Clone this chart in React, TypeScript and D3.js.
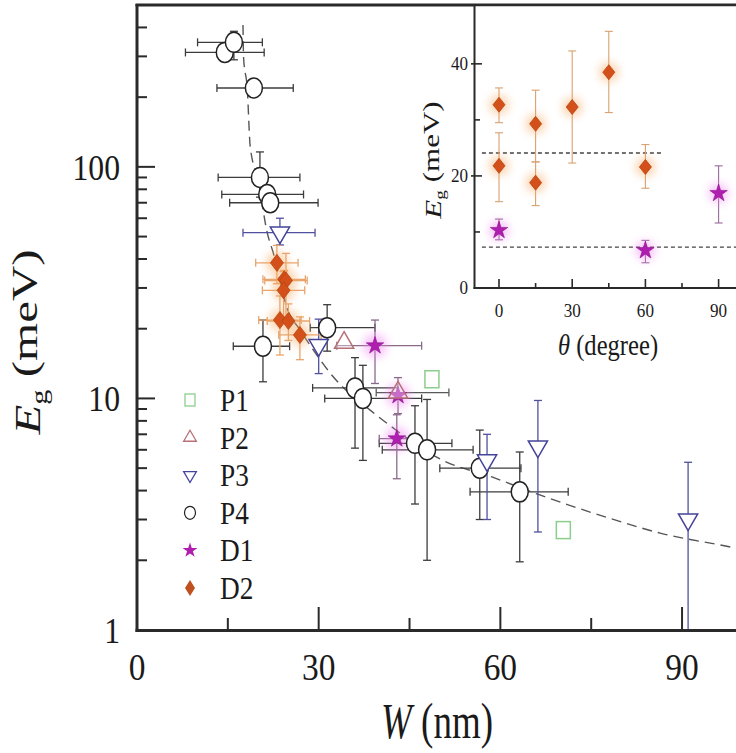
import React from 'react';
import * as d3 from 'd3';

type Pt = { w: number; e: number; w0?: number; w1?: number; e0?: number; e1?: number; theta?: number };

// Axis ticks
const xMajorTicks = [0, 30, 60, 90];
const xMinorTicks = [15, 45, 75];
const yLabelTicks = [1, 10, 100];
const insetXMajor = [0, 30, 60, 90];
const insetXMinor = [15, 45, 75];
const insetYMajor = [0, 20, 40];
const insetYMinor = [10, 30];

// Gap energy vs. ribbon width, per sample family
const seriesP1: Pt[] = [
  { w: 48.7, e: 12.1 },
  { w: 70.4, e: 2.7 },
];
const seriesP2: Pt[] = [
  { w: 34.2, e: 17.4 },
  { w: 43.1, e: 10.6, w0: 39.5, w1: 51.5 },
];
const seriesP3: Pt[] = [
  { w: 23.6, e: 52, w0: 17.5, w1: 29.4, e0: 46, e1: 60 },
  { w: 30.0, e: 17, e0: 12.8, e1: 22 },
  { w: 57.8, e: 5.4, e0: 3.0, e1: 7.0 },
  { w: 66.2, e: 6.2, e0: 2.65, e1: 9.8 },
  { w: 91.0, e: 3.0, e0: 1.0, e1: 5.3 },
];
const seriesP4: Pt[] = [
  { w: 14.5, e: 312, w0: 8, w1: 21 },
  { w: 16.0, e: 345, w0: 10, w1: 20.7, e0: 290, e1: 385 },
  { w: 19.3, e: 219, w0: 13.2, w1: 25.8 },
  { w: 20.3, e: 90, w0: 13.4, w1: 26.9, e0: 74, e1: 116 },
  { w: 21.5, e: 76, w0: 14, w1: 27.5 },
  { w: 22.0, e: 70, w0: 15.3, w1: 29.9 },
  { w: 20.8, e: 16.8, w0: 15.9, w1: 25.2, e0: 11.8, e1: 21.8 },
  { w: 31.4, e: 20.2, w0: 28.6, w1: 39.3, e0: 16, e1: 25.4 },
  { w: 36.0, e: 11.1, w0: 29, w1: 43, e0: 6.1, e1: 15 },
  { w: 37.3, e: 10.0, w0: 31, w1: 47, e0: 5.4, e1: 13.9 },
  { w: 45.9, e: 6.4, w0: 40, w1: 52, e0: 3.5, e1: 9.3 },
  { w: 47.9, e: 6.0, w0: 40.5, w1: 55.5, e0: 2.0, e1: 9.9 },
  { w: 56.6, e: 5.0, w0: 50, w1: 63.4, e0: 3.0, e1: 7.3 },
  { w: 63.2, e: 3.95, w0: 55, w1: 71.2, e0: 1.97, e1: 5.87 },
];
const seriesD1: Pt[] = [
  { w: 39.3, e: 16.9, w0: 33, w1: 47, e0: 11.6, e1: 21.8, theta: 90 },
  { w: 43.1, e: 10.3, e0: 8.6, e1: 12.3, theta: 0 },
  { w: 42.9, e: 6.7, w0: 40, w1: 46, e0: 4.5, e1: 8.5, theta: 60 },
];
const seriesD2: Pt[] = [
  { w: 23.1, e: 38.5, w0: 19.6, w1: 26.6, e0: 31.3, e1: 45.8, theta: 45 },
  { w: 24.3, e: 32.7, w0: 20.8, w1: 27.8, e0: 29.5, e1: 35.7, theta: 0 },
  { w: 24.6, e: 32.3, w0: 21.1, w1: 28.1, e0: 22.3, e1: 42.3, theta: 30 },
  { w: 24.2, e: 29.3, w0: 20.7, w1: 27.7, e0: 22.5, e1: 35.3, theta: 15 },
  { w: 23.6, e: 21.8, w0: 20.1, w1: 27.1, e0: 15.4, e1: 27.7, theta: 0 },
  { w: 25.0, e: 21.6, w0: 21.5, w1: 28.5, e0: 17.8, e1: 25.6, theta: 60 },
  { w: 26.9, e: 18.8, w0: 23.4, w1: 30.4, e0: 14.7, e1: 22.5, theta: 15 },
];

// Fitted curve through the data
const fitW = [17.5, 17.6, 18.2, 18.7, 20.0, 21.5, 22.5, 24.9, 26.9, 29.1, 32.4, 38.5, 41.3, 50.5, 58.6, 66.5, 77.3, 86.4, 98.7, 100];
const fitE = [410, 296, 219, 122, 88, 52, 42.5, 24.1, 19.8, 16.2, 12.4, 8.9, 7.8, 5.4, 4.58, 3.83, 3.08, 2.62, 2.26, 2.22];

// Mean gap levels in the angle inset
const insetLevels = [
  { e: 24.1, from: -7, to: 66.5 },
  { e: 7.3, from: -7, to: 100 },
];

const legendItems = ['P1', 'P2', 'P3', 'P4', 'D1', 'D2'];

const FONT = "'Liberation Serif', 'Times New Roman', serif";
const INK = '#2a2a2a';
const COL = {
  P1: '#8ccf8c',
  P2: '#b87078',
  P3: '#44449a',
  P4: '#222222',
  D1: '#b01eb0',
  D2: '#d4501a',
};

const x = d3.scaleLinear().domain([0, 100]).range([137, 742.6]);
const y = d3.scaleLog().domain([1, 500]).range([630, 5]);
const ix = d3.scaleLinear().domain([-10, 100]).range([474.6, 743]);
const iy = d3.scaleLinear().domain([0, 50.5]).range([288, 5]);

const starPath = d3.symbol().type(d3.symbolStar).size(95)()!;
const starSmall = d3.symbol().type(d3.symbolStar).size(70)()!;
const triPath = d3.symbol().type(d3.symbolTriangle).size(160)()!;
const triSmall = d3.symbol().type(d3.symbolTriangle).size(70)()!;
const diamond = (a: number, b: number) => `M0,${-b}L${a},0L0,${b}L${-a},0Z`;

function ErrorBars({ pts, sx, sy, color, cap = 4, width = 1.3 }: any) {
  return (
    <g stroke={color} strokeWidth={width} fill="none">
      {pts.map((p: any, i: number) => {
        const cx = sx(p.px), cy = sy(p.py);
        return (
          <g key={i}>
            {p.x0 != null && (
              <>
                <line x1={sx(p.x0)} x2={sx(p.x1)} y1={cy} y2={cy} />
                <line x1={sx(p.x0)} x2={sx(p.x0)} y1={cy - cap} y2={cy + cap} />
                <line x1={sx(p.x1)} x2={sx(p.x1)} y1={cy - cap} y2={cy + cap} />
              </>
            )}
            {p.y0 != null && (
              <>
                <line x1={cx} x2={cx} y1={sy(p.y0)} y2={sy(p.y1)} />
                {p.y0 > 1.01 && <line x1={cx - cap} x2={cx + cap} y1={sy(p.y0)} y2={sy(p.y0)} />}
                <line x1={cx - cap} x2={cx + cap} y1={sy(p.y1)} y2={sy(p.y1)} />
              </>
            )}
          </g>
        );
      })}
    </g>
  );
}

const mainPts = (s: Pt[]) => s.map((p) => ({ px: p.w, py: p.e, x0: p.w0, x1: p.w1, y0: p.e0, y1: p.e1 }));
const insetPts = (s: Pt[]) => s.map((p) => ({ px: p.theta, py: p.e, y0: p.e0, y1: p.e1 }));

function Txt({ x: tx, y: ty, size, anchor = 'middle', sx = 0.86, rotate = 0, children }: any) {
  return (
    <text
      transform={`translate(${tx},${ty}) rotate(${rotate}) scale(${sx},1)`}
      fontSize={size}
      fontFamily={FONT}
      textAnchor={anchor}
      fill="#1a1a1a"
    >
      {children}
    </text>
  );
}

export default function App() {
  const yMinor = y.ticks().filter((t) => ![1, 10, 100].includes(t));
  const fitLine = d3
    .line<number>()
    .x((_, i) => x(fitW[i]))
    .y((d) => y(d))
    .curve(d3.curveMonotoneX)(fitE)!;

  return (
    <svg width={736} height={753} style={{ position: 'absolute', left: 0, top: 0, background: '#fff' }}>
      <defs>
        <filter id="halo" x="-100%" y="-100%" width="300%" height="300%">
          <feGaussianBlur stdDeviation="4" />
        </filter>
        <clipPath id="plotClip">
          <rect x={137} y={5} width={600} height={626} />
        </clipPath>
      </defs>
      <rect width={736} height={753} fill="#fff" />

      {/* main plot */}
      <g clipPath="url(#plotClip)">
        <path d={fitLine} fill="none" stroke="#555" strokeWidth={1.4} strokeDasharray="10,6" />

        <ErrorBars pts={mainPts(seriesP4)} sx={x} sy={y} color="#3c3c3c" />
        <ErrorBars pts={mainPts(seriesP3)} sx={x} sy={y} color="#50509e" />
        <ErrorBars pts={mainPts(seriesP2)} sx={x} sy={y} color="#5a5a5a" />
        <ErrorBars pts={mainPts(seriesD1)} sx={x} sy={y} color="#8a6a8a" />
        <ErrorBars pts={mainPts(seriesD2)} sx={x} sy={y} color="#e8a46c" />

        {/* halos around the filled markers */}
        <g filter="url(#halo)" opacity={0.45}>
          {seriesD2.map((p, i) => (
            <circle key={'h2' + i} cx={x(p.w)} cy={y(p.e)} r={11} fill="#f6a45a" />
          ))}
          {seriesD1.map((p, i) => (
            <circle key={'h1' + i} cx={x(p.w)} cy={y(p.e)} r={12} fill="#f080f0" />
          ))}
        </g>

        {seriesP4.map((p, i) => (
          <ellipse key={'p4' + i} cx={x(p.w)} cy={y(p.e)} rx={8.5} ry={10} fill="#fff" stroke={COL.P4} strokeWidth={1.5} />
        ))}
        {seriesP3.map((p, i) => (
          <path key={'p3' + i} d={triPath} transform={`translate(${x(p.w)},${y(p.e)}) rotate(180)`} fill="#fff" stroke={COL.P3} strokeWidth={1.5} />
        ))}
        {seriesP1.map((p, i) => (
          <rect key={'p1' + i} x={x(p.w) - 7} y={y(p.e) - 8.5} width={14} height={17} fill="#fff" stroke={COL.P1} strokeWidth={1.5} />
        ))}
        {seriesD2.map((p, i) => (
          <path key={'d2' + i} d={diamond(6.5, 8.5)} transform={`translate(${x(p.w)},${y(p.e)})`} fill={COL.D2} stroke="#b8440f" strokeWidth={0.8} />
        ))}
        {seriesD1.map((p, i) => (
          <path key={'d1' + i} d={starPath} transform={`translate(${x(p.w)},${y(p.e)})`} fill={COL.D1} stroke="#8a108a" strokeWidth={0.6} />
        ))}
        {seriesP2.map((p, i) => (
          <path key={'p2' + i} d={triPath} transform={`translate(${x(p.w)},${y(p.e)})`} fill="#fff" fillOpacity={0.35} stroke={COL.P2} strokeWidth={1.5} />
        ))}
      </g>

      {/* main axes */}
      <g stroke={INK} fill="none">
        <line x1={137} x2={137} y1={4} y2={632} strokeWidth={3} />
        <line x1={135.5} x2={736} y1={630.5} y2={630.5} strokeWidth={3} />
        <line x1={135.5} x2={736} y1={5} y2={5} strokeWidth={3} />
        {xMajorTicks.filter((t) => t > 0).map((t) => (
          <line key={'xM' + t} x1={x(t)} x2={x(t)} y1={630} y2={607} strokeWidth={2} />
        ))}
        {xMinorTicks.map((t) => (
          <line key={'xm' + t} x1={x(t)} x2={x(t)} y1={630} y2={618} strokeWidth={2} />
        ))}
        {yLabelTicks.filter((t) => t > 1).map((t) => (
          <line key={'yM' + t} x1={137} x2={155} y1={y(t)} y2={y(t)} strokeWidth={2} />
        ))}
        {yMinor.map((t) => (
          <line key={'ym' + t} x1={137} x2={147} y1={y(t)} y2={y(t)} strokeWidth={2} />
        ))}
      </g>

      {xMajorTicks.map((t) => (
        <Txt key={'xl' + t} x={x(t)} y={680} size={38} sx={0.88}>{t}</Txt>
      ))}
      {yLabelTicks.map((t) => (
        <Txt key={'yl' + t} x={120} y={y(t) + 13} size={36} anchor="end" sx={0.88}>{t}</Txt>
      ))}

      <Txt x={437} y={738} size={50} sx={0.74}>
        <tspan fontStyle="italic">W</tspan>
        <tspan> (nm)</tspan>
      </Txt>
      <Txt x={40} y={342} size={36} sx={1.36} rotate={-90}>
        <tspan fontStyle="italic">E</tspan>
        <tspan fontSize="0.62em" dy="0.3em">g</tspan>
        <tspan dy="-0.26em"> (meV)</tspan>
      </Txt>

      {/* legend */}
      {legendItems.map((k, i) => {
        const ly = 400 + i * 37.6;
        const lx = 190;
        let sym: any = null;
        if (k === 'P1') sym = <rect x={lx - 5} y={ly - 6} width={10} height={12} fill="#fff" stroke={COL.P1} strokeWidth={1.3} />;
        if (k === 'P2') sym = <path d={triSmall} transform={`translate(${lx},${ly})`} fill="#fff" stroke={COL.P2} strokeWidth={1.3} />;
        if (k === 'P3') sym = <path d={triSmall} transform={`translate(${lx},${ly}) rotate(180)`} fill="#fff" stroke={COL.P3} strokeWidth={1.3} />;
        if (k === 'P4') sym = <ellipse cx={lx} cy={ly} rx={5.5} ry={6.5} fill="#fff" stroke={COL.P4} strokeWidth={1.2} />;
        if (k === 'D1') sym = <path d={starSmall} transform={`translate(${lx},${ly})`} fill={COL.D1} />;
        if (k === 'D2') sym = <path d={diamond(5, 8)} transform={`translate(${lx},${ly})`} fill="#c0501e" />;
        return (
          <g key={k}>
            {sym}
            <Txt x={220} y={ly + 11} size={31} anchor="start" sx={0.88}>{k}</Txt>
          </g>
        );
      })}

      {/* inset: gap vs. orientation angle */}
      <rect x={475} y={6.5} width={262} height={281} fill="#fff" />
      <g>
        {insetLevels.map((l, i) => (
          <line key={'lv' + i} x1={ix(l.from)} x2={ix(l.to)} y1={iy(l.e)} y2={iy(l.e)} stroke="#444" strokeWidth={1.4} strokeDasharray="4,3" />
        ))}
        <ErrorBars pts={insetPts(seriesD2)} sx={ix} sy={iy} color="#d9a070" cap={4} width={1.1} />
        <ErrorBars pts={insetPts(seriesD1)} sx={ix} sy={iy} color="#9a6a9a" cap={4} width={1.1} />
        <g filter="url(#halo)" opacity={0.45}>
          {seriesD2.map((p, i) => (
            <circle key={'ih2' + i} cx={ix(p.theta!)} cy={iy(p.e)} r={10} fill="#f6a45a" />
          ))}
          {seriesD1.map((p, i) => (
            <circle key={'ih1' + i} cx={ix(p.theta!)} cy={iy(p.e)} r={10} fill="#f080f0" />
          ))}
        </g>
        {seriesD2.map((p, i) => (
          <path key={'id2' + i} d={diamond(6, 7.5)} transform={`translate(${ix(p.theta!)},${iy(p.e)})`} fill={COL.D2} stroke="#b8440f" strokeWidth={0.8} />
        ))}
        {seriesD1.map((p, i) => (
          <path key={'id1' + i} d={starPath} transform={`translate(${ix(p.theta!)},${iy(p.e)})`} fill={COL.D1} stroke="#8a108a" strokeWidth={0.6} />
        ))}
      </g>
      <g stroke={INK} fill="none">
        <line x1={474.5} x2={474.5} y1={5} y2={289} strokeWidth={2} />
        <line x1={473.5} x2={736} y1={288} y2={288} strokeWidth={2} />
        {insetXMajor.map((t) => (
          <line key={'ixM' + t} x1={ix(t)} x2={ix(t)} y1={288} y2={279} strokeWidth={1.6} />
        ))}
        {insetXMinor.map((t) => (
          <line key={'ixm' + t} x1={ix(t)} x2={ix(t)} y1={288} y2={283} strokeWidth={1.6} />
        ))}
        {insetYMajor.filter((t) => t > 0).map((t) => (
          <line key={'iyM' + t} x1={471} x2={482} y1={iy(t)} y2={iy(t)} strokeWidth={1.6} />
        ))}
        {insetYMinor.map((t) => (
          <line key={'iym' + t} x1={474} x2={480} y1={iy(t)} y2={iy(t)} strokeWidth={1.6} />
        ))}
      </g>
      {insetXMajor.map((t) => (
        <Txt key={'ixl' + t} x={ix(t)} y={317} size={19} sx={0.9}>{t}</Txt>
      ))}
      {insetYMajor.map((t) => (
        <Txt key={'iyl' + t} x={468} y={iy(t) + 6} size={19} anchor="end" sx={0.9}>{t}</Txt>
      ))}
      <Txt x={608} y={355} size={30} sx={0.82}>
        <tspan fontStyle="italic">θ</tspan>
        <tspan> (degree)</tspan>
      </Txt>
      <Txt x={441} y={160} size={23} sx={1.35} rotate={-90}>
        <tspan fontStyle="italic">E</tspan>
        <tspan fontSize="0.62em" dy="0.3em">g</tspan>
        <tspan dy="-0.26em"> (meV)</tspan>
      </Txt>
    </svg>
  );
}
